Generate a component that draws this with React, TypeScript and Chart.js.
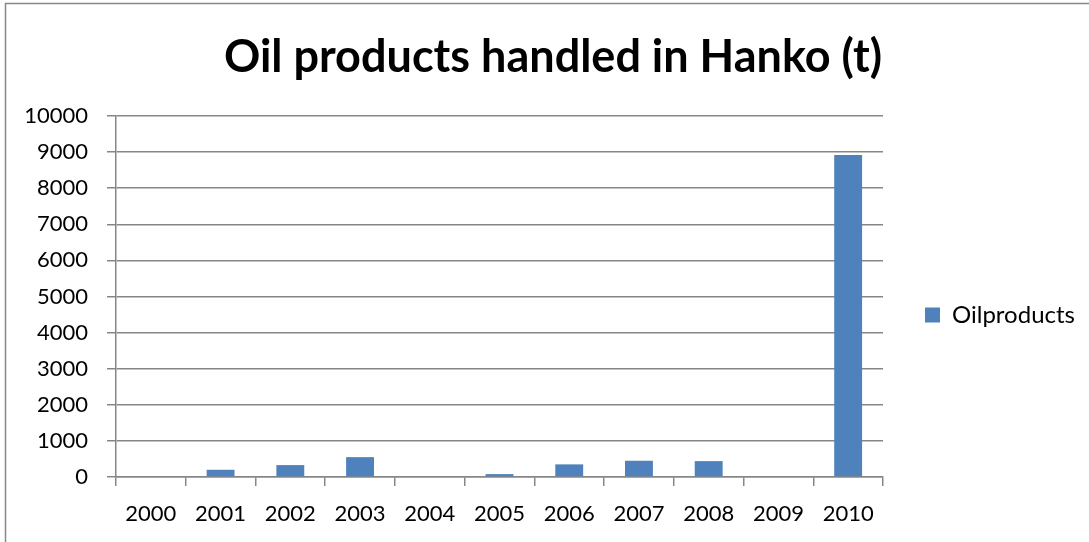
import React, { useEffect, useRef } from "react";
import { Chart, registerables } from "chart.js";

Chart.register(...registerables);

const years = ["2000", "2001", "2002", "2003", "2004", "2005", "2006", "2007", "2008", "2009", "2010"];
const oilProducts = [0, 200, 330, 550, 0, 80, 350, 450, 440, 0, 8920];
const yMin = 0;
const yMax = 10000;
const yStep = 1000;

const titleText = "Oil products handled in Hanko (t)";
const seriesLabel = "Oilproducts";

const FONT = "Lato, 'Open Sans', sans-serif";
const GRID = "#878787";

const LEGEND_SHIFT_X = 32;
const LEGEND_SHIFT_Y = 44;
const TITLE_SHIFT = 22;

const borderPlugin = {
  id: "outerBorder",
  afterLayout(chart: any) {
    const lg = chart.legend;
    if (lg) {
      lg.left += LEGEND_SHIFT_X;
      lg.right += LEGEND_SHIFT_X;
      lg.top += LEGEND_SHIFT_Y;
      lg.bottom += LEGEND_SHIFT_Y;
    }
    const tb = chart.titleBlock;
    if (tb) {
      tb.left += TITLE_SHIFT;
      tb.right += TITLE_SHIFT;
    }
  },
  beforeDraw(chart: any) {
    const ctx = chart.ctx;
    ctx.save();
    ctx.fillStyle = "#ffffff";
    ctx.fillRect(0, 0, chart.width, chart.height);
    ctx.strokeStyle = GRID;
    ctx.lineWidth = 1.5;
    ctx.strokeRect(5.5, 3.5, chart.width + 20, chart.height + 20);
    ctx.restore();
  },
};

export default function App() {
  const ref = useRef<HTMLCanvasElement | null>(null);

  useEffect(() => {
    document.body.style.margin = "0";
    const canvas = ref.current;
    if (!canvas) return;
    const chart = new Chart(canvas, {
      type: "bar",
      data: {
        labels: years,
        datasets: [
          {
            label: seriesLabel,
            data: oilProducts,
            backgroundColor: "#4f81bd",
            borderColor: "#4f81bd",
            borderWidth: 0,
            barPercentage: 0.8,
            categoryPercentage: 0.5,
          },
        ],
      },
      options: {
        responsive: false,
        animation: false,
        devicePixelRatio: 1,
        layout: { padding: { left: 9, right: 36, top: 0, bottom: 0 } },
        plugins: {
          title: {
            display: true,
            text: titleText,
            color: "#000",
            font: { family: FONT, size: 45, weight: "bold" },
            padding: { top: 30, bottom: 32 },
          },
          legend: {
            display: true,
            position: "right",
            labels: {
              color: "#000",
              font: { family: FONT, size: 24 },
              boxWidth: 15,
              boxHeight: 15,
              padding: 10,
            },
          },
          tooltip: { enabled: false },
        },
        scales: {
          x: {
            grid: {
              display: true,
              drawOnChartArea: false,
              drawTicks: true,
              tickLength: 9,
              color: GRID,
              lineWidth: 1.5,
              offset: true,
            },
            border: { display: true, color: GRID, width: 1.5 },
            ticks: {
              color: "#000",
              font: { family: FONT, size: 22 },
              padding: 15,
              maxRotation: 0,
            },
            afterFit(scale: any) {
              scale.height = 65;
            },
          },
          y: {
            min: yMin,
            max: yMax,
            grid: {
              color: GRID,
              lineWidth: 1.5,
              drawTicks: true,
              tickLength: 9,
            },
            border: { display: true, color: GRID, width: 1.5 },
            ticks: {
              stepSize: yStep,
              color: "#000",
              font: { family: FONT, size: 22 },
              padding: 19,
              callback: (v: any) => String(v),
            },
            afterFit(scale: any) {
              scale.width = 107;
            },
          },
        },
      },
      plugins: [borderPlugin],
    });
    return () => chart.destroy();
  }, []);

  return (
    <div style={{ width: 1089, height: 542 }}>
      <canvas ref={ref} width={1089} height={542} style={{ display: "block" }} />
    </div>
  );
}
